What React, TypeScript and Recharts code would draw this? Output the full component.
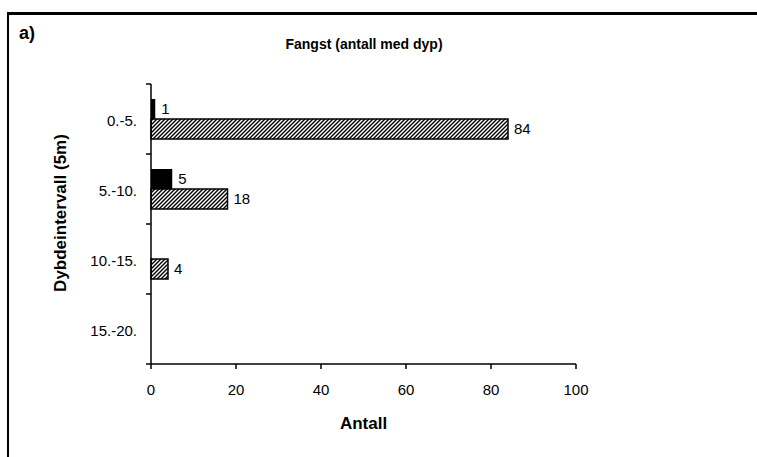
import React from 'react';
import { BarChart, Bar, XAxis, YAxis, LabelList, Label } from 'recharts';

const FONT = '"Liberation Sans", Arial, sans-serif';

const categories = ['0.-5.', '5.-10.', '10.-15.', '15.-20.'];
const seriesSolid: (number | null)[] = [1, 5, null, null];
const seriesHatched: (number | null)[] = [84, 18, 4, null];
const xTicks = [0, 20, 40, 60, 80, 100];

const data = categories.map((c, i) => ({ cat: c, solid: seriesSolid[i], hatched: seriesHatched[i] }));

const AXIS_X = 151;
const TICK_FS = 15;

const CatTick = (props: any) => {
  const { x, y, payload, index, visibleTicksCount } = props;
  const off = payload && typeof payload.offset === 'number' ? payload.offset : 35;
  const last = index === (visibleTicksCount ?? categories.length) - 1;
  return (
    <g>
      <text x={x} y={y + 2} dy="0.355em" textAnchor="end" fill="#000" fontSize={TICK_FS} fontFamily={FONT}>
        {payload.value}
      </text>
      <line x1={AXIS_X - 5} x2={AXIS_X} y1={y - off} y2={y - off} stroke="#000" strokeWidth={1.5} />
      {last && <line x1={AXIS_X - 5} x2={AXIS_X} y1={y + off} y2={y + off} stroke="#000" strokeWidth={1.5} />}
    </g>
  );
};

const fmt = (v: any) => (v === null || v === undefined || v === 0 ? '' : String(v));

export default function App() {
  return (
    <div style={{ position: 'absolute', left: 0, top: 0, width: 757, height: 457, background: '#fff', overflow: 'hidden', fontFamily: FONT }}>
      <div style={{ position: 'absolute', left: 7, top: 12, width: 800, height: 500, borderLeft: '2px solid #000', borderTop: '3px solid #000' }} />
      <div style={{ position: 'absolute', left: 0, top: 0 }}>
        <BarChart
          width={757}
          height={457}
          data={data}
          layout="vertical"
          margin={{ top: 84, right: 181, bottom: 0, left: 0 }}
          barCategoryGap="21.4%"
          barGap={0}
        >
          <defs>
            <pattern id="hatch" patternUnits="userSpaceOnUse" width="4" height="4">
              <rect width="4" height="4" fill="#fff" />
              <path d="M-1,1 l2,-2 M0,4 l4,-4 M3,5 l2,-2" stroke="#000" strokeWidth="1.4" />
            </pattern>
          </defs>
          <text x={19} y={39} fontSize={18} fontWeight="bold" fontFamily={FONT} fill="#000">a)</text>
          <text x={364} y={49} textAnchor="middle" fontSize={14} fontWeight="bold" fontFamily={FONT} fill="#000">
            Fangst (antall med dyp)
          </text>
          <XAxis
            type="number"
            domain={[0, 100]}
            ticks={xTicks}
            height={93}
            tickSize={5}
            tickMargin={15}
            axisLine={{ stroke: '#000', strokeWidth: 1.5 }}
            tickLine={{ stroke: '#000', strokeWidth: 1.5 }}
            tick={{ fill: '#000', fontSize: TICK_FS, fontFamily: FONT }}
          >
            <Label
              content={(p: any) => (
                <text
                  x={p.viewBox.x + p.viewBox.width / 2}
                  y={p.viewBox.y + 65}
                  textAnchor="middle"
                  fontSize={17}
                  fontWeight="bold"
                  fontFamily={FONT}
                  fill="#000"
                >
                  Antall
                </text>
              )}
            />
          </XAxis>
          <YAxis
            type="category"
            dataKey="cat"
            width={151}
            tickSize={5}
            tickMargin={9}
            tickLine={false}
            axisLine={{ stroke: '#000', strokeWidth: 1.5 }}
            tick={<CatTick />}
          >
            <Label
              content={(p: any) => {
                const cx = p.viewBox.x + 66;
                const cy = p.viewBox.y + p.viewBox.height / 2 - 11;
                return (
                  <text
                    x={cx}
                    y={cy}
                    transform={`rotate(-90 ${cx} ${cy})`}
                    textAnchor="middle"
                    fontSize={17}
                    fontWeight="bold"
                    fontFamily={FONT}
                    fill="#000"
                  >
                    Dybdeintervall (5m)
                  </text>
                );
              }}
            />
          </YAxis>
          <Bar dataKey="solid" fill="#000" isAnimationActive={false}>
            <LabelList dataKey="solid" position="right" offset={6} formatter={fmt} fill="#000" fontSize={TICK_FS} fontFamily={FONT} />
          </Bar>
          <Bar dataKey="hatched" fill="url(#hatch)" stroke="#000" strokeWidth={1.5} isAnimationActive={false}>
            <LabelList dataKey="hatched" position="right" offset={6} formatter={fmt} fill="#000" fontSize={TICK_FS} fontFamily={FONT} />
          </Bar>
        </BarChart>
      </div>
    </div>
  );
}
